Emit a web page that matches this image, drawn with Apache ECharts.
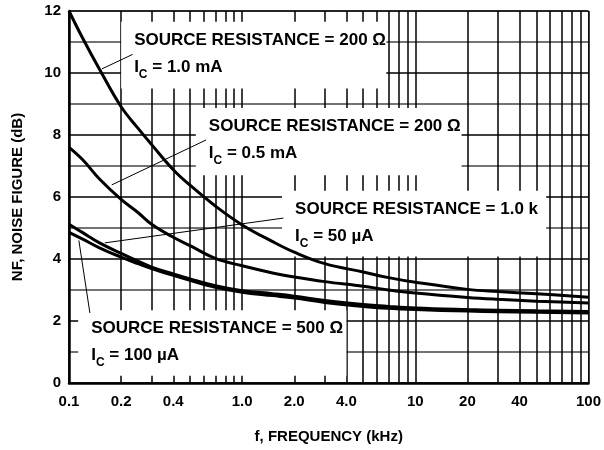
<!DOCTYPE html>
<html><head><meta charset="utf-8">
<script src="https://cdn.jsdelivr.net/npm/echarts@6/dist/echarts.min.js"></script>
<style>html,body{margin:0;padding:0;background:#fff}#c{width:604px;height:450px}</style>
</head><body><div id="c"></div>
<script>
// Frequency (kHz) sample points
const FREQ = [0.1, 0.12, 0.15, 0.2, 0.25, 0.3, 0.4, 0.5, 0.7, 1, 1.5, 2, 3, 5, 7, 10, 20, 30, 50, 100];
// Noise figure (dB)
const NF_200_1MA   = [12.0, 11.12, 10.12, 8.91, 8.22, 7.69, 6.88, 6.38, 5.71, 5.1, 4.56, 4.22, 3.85, 3.58, 3.4, 3.25, 3.02, 2.95, 2.88, 2.77];
const NF_200_05MA  = [7.6, 7.2, 6.58, 5.92, 5.5, 5.12, 4.7, 4.43, 4.02, 3.78, 3.55, 3.42, 3.27, 3.12, 3.0, 2.9, 2.76, 2.7, 2.64, 2.58];
const NF_1K_50UA   = [5.12, 4.85, 4.52, 4.18, 3.93, 3.74, 3.52, 3.36, 3.14, 2.98, 2.88, 2.8, 2.66, 2.53, 2.47, 2.42, 2.37, 2.35, 2.33, 2.31];
const NF_500_100UA = [4.86, 4.64, 4.36, 4.06, 3.85, 3.69, 3.47, 3.31, 3.09, 2.93, 2.82, 2.74, 2.6, 2.47, 2.41, 2.37, 2.32, 2.3, 2.28, 2.26];

// Grid lines and tick labels
const X_GRID = [0.1,0.2,0.3,0.4,0.5,0.6,0.7,0.8,0.9,1,2,3,4,5,6,7,8,9,10,20,30,40,50,60,70,80,90,100];
const X_LABELS = [0.1, 0.2, 0.4, 1, 2, 4, 10, 20, 40, 100];
const X_LABEL_TEXT = ['0.1', '0.2', '0.4', '1.0', '2.0', '4.0', '10', '20', '40', '100'];

// Annotations: text, box extents [fMin, fMax, nfMin, nfMax], leader line ends
const ANN_LINE1 = ['SOURCE RESISTANCE = 200 \u03A9', 'SOURCE RESISTANCE = 200 \u03A9', 'SOURCE RESISTANCE = 1.0 k', 'SOURCE RESISTANCE = 500 \u03A9'];
const ANN_LINE2 = [' = 1.0 mA', ' = 0.5 mA', ' = 50 \u00B5A', ' = 100 \u00B5A'];
const ANN_BOX = [[0.2, 6.8, 9.5, 11.65], [0.54, 18.5, 6.7, 8.87], [1.7, 57, 4.08, 6.2], [0.113, 4.0, 0.23, 2.35]];
const ANN_LEADER = [[[0.233, 10.6], [0.1546, 10.13]], [[0.619, 7.84], [0.1765, 6.39]], [[1.73, 5.32], [0.161, 4.52]], [[0.132, 2.26], [0.114, 4.6]]];

const FONT = "'Liberation Sans', Arial, Helvetica, sans-serif";
const chart = echarts.init(document.getElementById('c'), null, {renderer: 'canvas'});

function curve(vals) {
  return {
    type: 'line', smooth: 0.4, symbol: 'none', z: 5,
    lineStyle: {color: '#000', width: 3},
    data: FREQ.map((f, i) => [f, vals[i]])
  };
}
const leaders = ANN_LEADER.map(pts => ({
  type: 'line', symbol: 'none', z: 6, silent: true,
  lineStyle: {color: '#000', width: 1},
  data: pts
}));

chart.setOption({
  animation: false,
  backgroundColor: '#fff',
  grid: {left: 69, right: 12, top: 11, bottom: 67, show: true, borderColor: '#333', borderWidth: 1, z: 0},
  xAxis: {
    type: 'log', min: 0.1, max: 100, logBase: 10,
    name: 'f, FREQUENCY (kHz)', nameLocation: 'middle', nameGap: 46,
    nameTextStyle: {fontFamily: FONT, fontWeight: 'bold', fontSize: 15, color: '#000'},
    axisLine: {show: true, lineStyle: {color: '#000', width: 2.5}},
    axisTick: {show: false, customValues: X_GRID},
    splitLine: {show: true, lineStyle: {color: '#000', width: 1.5}},
    axisLabel: {
      customValues: X_LABELS, margin: 11,
      fontFamily: FONT, fontWeight: 'bold', fontSize: 15, color: '#000',
      formatter: v => {
        let best = 0;
        X_LABELS.forEach((x, i) => { if (Math.abs(Math.log10(x) - Math.log10(v)) < Math.abs(Math.log10(X_LABELS[best]) - Math.log10(v))) best = i; });
        return X_LABEL_TEXT[best];
      }
    },
    z: 0
  },
  yAxis: {
    type: 'value', min: 0, max: 12, interval: 1,
    name: 'NF, NOISE FIGURE (dB)', nameLocation: 'middle', nameGap: 44,
    nameTextStyle: {fontFamily: FONT, fontWeight: 'bold', fontSize: 15, color: '#000'},
    axisLine: {show: true, lineStyle: {color: '#000', width: 2.5}},
    axisTick: {show: false},
    splitLine: {show: true, lineStyle: {color: ['#000', '#444'], width: 1.5}},
    axisLabel: {
      margin: 8, fontFamily: FONT, fontWeight: 'bold', fontSize: 15, color: '#000',
      formatter: v => (Math.round(v) % 2 === 0 ? String(Math.round(v)) : '')
    },
    z: 0
  },
  series: [curve(NF_200_1MA), curve(NF_200_05MA), curve(NF_1K_50UA), curve(NF_500_100UA)].concat(leaders)
});

// white annotation boxes with text (positioned from data coordinates)
const graphics = [];
ANN_BOX.forEach((b, i) => {
  const p1 = chart.convertToPixel({gridIndex: 0}, [b[0], b[3]]);
  const p2 = chart.convertToPixel({gridIndex: 0}, [b[1], b[2]]);
  graphics.push({
    type: 'rect', z: 2, silent: true,
    shape: {x: p1[0], y: p1[1], width: p2[0] - p1[0], height: p2[1] - p1[1]},
    style: {fill: '#fff'}
  });
  graphics.push({
    type: 'text', z: 7, silent: true,
    x: p1[0] + 13, y: p1[1] + 5,
    style: {
      text: '{a|' + ANN_LINE1[i] + '}\n{a|I}{s|C}{a|' + ANN_LINE2[i] + '}',
      verticalAlign: 'top', align: 'left', fill: '#000',
      rich: {
        a: {fontFamily: FONT, fontWeight: 'bold', fontSize: 17, lineHeight: 27, fill: '#000'},
        s: {fontFamily: FONT, fontWeight: 'bold', fontSize: 12, lineHeight: 16, verticalAlign: 'bottom', fill: '#000'}
      }
    }
  });
});
chart.setOption({graphic: graphics});
</script>
</body></html>
